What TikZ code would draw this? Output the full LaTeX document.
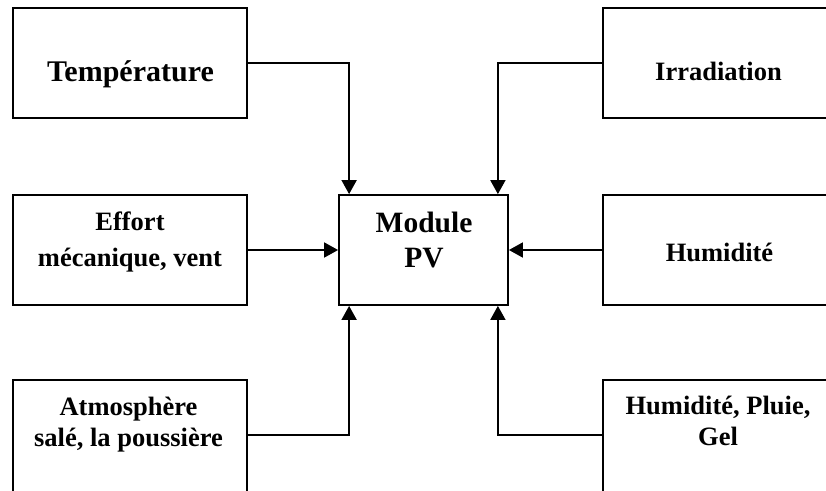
\documentclass[tikz,border=0pt]{standalone}
\usepackage{fontspec}
\setmainfont{Liberation Serif}
\usepackage{tikz}
\usetikzlibrary{arrows.meta}

\begin{document}
\begin{tikzpicture}[x=1pt, y=-1pt, line width=1.8pt,
    boite/.style={draw, rectangle, minimum width=234pt, minimum height=110pt, inner sep=0pt},
    texte/.style={font=\fontsize{26.5}{36}\selectfont\bfseries, align=center, anchor=base, inner sep=0pt},
    fleche/.style={-{Triangle[length=14pt, width=15pt]}}]
  \path[use as bounding box, clip] (0,0) rectangle (826,490);
  \fill[white] (0,0) rectangle (826,490);

  % cadres (ceux du bas et de droite sortent du cadre)
  \node[boite]                      (temp)   at (130,   63)  {};
  \node[boite]                      (irr)    at (720,   63)  {};
  \node[boite]                      (effort) at (130,   250) {};
  \node[boite, minimum width=169pt] (module) at (423.5, 250) {};
  \node[boite]                      (humid)  at (720,   250) {};
  \node[boite, minimum height=140pt] (atmos)  at (130,   450) {};
  \node[boite, minimum height=140pt] (pluie)  at (720,   450) {};

  % textes (ancre base = derniere ligne)
  \node[texte, font=\fontsize{30}{36}\selectfont\bfseries]   (t-temp)   at (130.5, 81.5)  {Température};
  \node[texte]                                               (t-irr)    at (718.5, 80)    {Irradiation};
  \node[texte]                                               (t-effort) at (130,   266)   {Effort\\mécanique, vent};
  \node[texte, font=\fontsize{29.5}{35}\selectfont\bfseries] (t-module) at (424,   267.5) {Module\\PV};
  \node[texte]                                               (t-humid)  at (719.5, 261)   {Humidité};
  \node[texte, font=\fontsize{26.5}{31}\selectfont\bfseries] (t-atmos)  at (128.5, 446)   {Atmosphère\\salé, la poussière};
  \node[texte, font=\fontsize{26.5}{31}\selectfont\bfseries] (t-pluie)  at (718,   445)   {Humidité, Pluie,\\Gel};

  % liaisons
  \draw[fleche] (temp.east)   -| ([xshift=11pt]module.north west);
  \draw[fleche] (irr.west)    -| ([xshift=-11pt]module.north east);
  \draw[fleche] (effort.east) -- (module.west);
  \draw[fleche] (humid.west)  -- (module.east);
  \draw[fleche] ([yshift=-56pt]atmos.north east) -| ([xshift=11pt]module.south west);
  \draw[fleche] ([yshift=-56pt]pluie.north west) -| ([xshift=-11pt]module.south east);
\end{tikzpicture}
\end{document}
